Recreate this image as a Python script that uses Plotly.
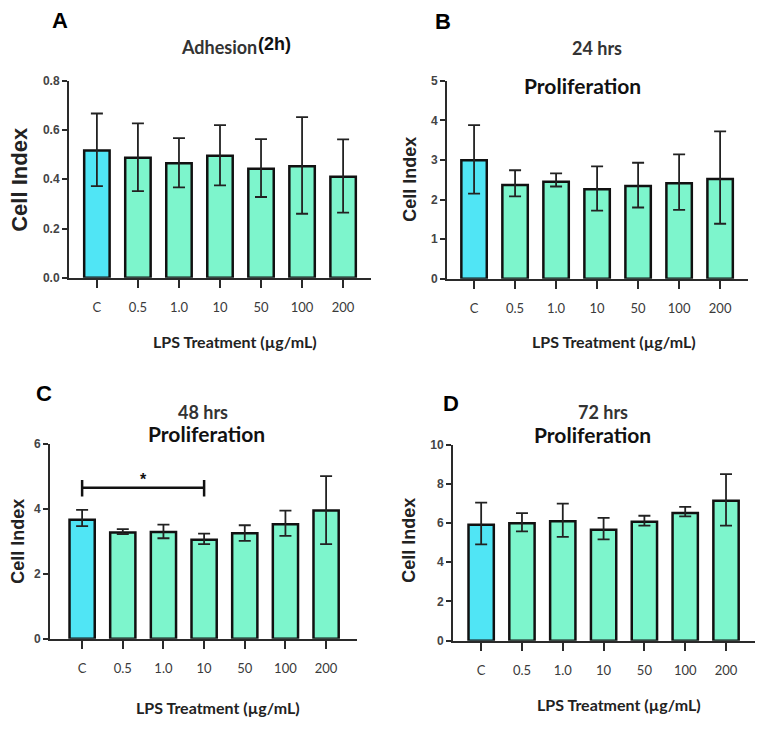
import plotly.graph_objects as go

# The page body has an 8px margin; the figure is sized/offset to fit the 771x735 window.
OFF = 8
W, H = 771 - OFF, 735 - OFF

categories = ["C", "0.5", "1.0", "10", "50", "100", "200"]

# Panel A: Adhesion (2h)
a_mean = [0.517, 0.487, 0.465, 0.495, 0.443, 0.453, 0.410]
a_upper = [0.667, 0.627, 0.567, 0.620, 0.563, 0.652, 0.562]
a_lower = [0.372, 0.352, 0.367, 0.375, 0.328, 0.260, 0.265]

# Panel B: 24 hrs
b_mean = [2.99, 2.37, 2.45, 2.26, 2.34, 2.41, 2.52]
b_upper = [3.88, 2.74, 2.66, 2.84, 2.93, 3.14, 3.72]
b_lower = [2.15, 2.08, 2.33, 1.72, 1.80, 1.74, 1.39]

# Panel C: 48 hrs
c_mean = [3.66, 3.27, 3.28, 3.04, 3.24, 3.52, 3.94]
c_upper = [3.96, 3.37, 3.51, 3.23, 3.49, 3.94, 5.00]
c_lower = [3.46, 3.22, 3.09, 2.91, 3.01, 3.16, 2.91]

# Panel D: 72 hrs
d_mean = [5.91, 5.99, 6.09, 5.66, 6.07, 6.51, 7.14]
d_upper = [7.04, 6.51, 6.99, 6.26, 6.37, 6.82, 8.49]
d_lower = [4.91, 5.57, 5.29, 5.17, 5.87, 6.34, 5.87]

# significance bracket in C (between "C" and "10")
sig_from, sig_to = 0, 3
sig_y, sig_tick_lo, sig_tick_hi = 4.64, 4.37, 4.88
sig_star_y = 4.9

CYAN = "#50E5F5"
MINT = "#7DF5CC"
colors = [CYAN] + [MINT] * 6

panels = [
    dict(x0=69, x1=371, yb=276, yt=75, xr=[-0.68, 6.68], yr=[0, 0.8], dt=0.2, fmt=".1f",
         mean=a_mean, up=a_upper, lo=a_lower),
    dict(x0=447, x1=748, yb=277, yt=75, xr=[-0.66, 6.68], yr=[0, 5], dt=1, fmt="d",
         mean=b_mean, up=b_upper, lo=b_lower),
    dict(x0=50, x1=357, yb=644, yt=445, xr=[-0.79, 6.76], yr=[0, 6], dt=2, fmt="d",
         mean=c_mean, up=c_upper, lo=c_lower),
    dict(x0=453, x1=755, yb=646, yt=446, xr=[-0.69, 6.71], yr=[0, 10], dt=2, fmt="d",
         mean=d_mean, up=d_upper, lo=d_lower),
]

def fx(px):
    return (px - OFF) / W

def fy(py):
    return 1 - (py - OFF) / H

fig = go.Figure()
layout = dict(width=W, height=H, margin=dict(l=0, r=0, t=0, b=0),
              paper_bgcolor="white", plot_bgcolor="white", showlegend=False)

AXC = "#2a2a2a"
for i, p in enumerate(panels, start=1):
    xs = "" if i == 1 else str(i)
    fig.add_trace(go.Bar(
        x=list(range(len(categories))), y=p["mean"],
        marker=dict(color=colors, line=dict(color="#111111", width=2.5)),
        width=0.62,
        error_y=dict(type="data", symmetric=False,
                     array=[u - m for u, m in zip(p["up"], p["mean"])],
                     arrayminus=[m - l for m, l in zip(p["mean"], p["lo"])],
                     color="#222222", thickness=1.8, width=6),
        xaxis="x" + xs, yaxis="y" + xs,
    ))
    layout["xaxis" + xs] = dict(
        domain=[fx(p["x0"]), fx(p["x1"])], range=p["xr"], anchor="y" + xs,
        tickmode="array", tickvals=list(range(len(categories))), ticktext=categories,
        showline=True, linecolor=AXC, linewidth=2, ticks="outside", ticklen=8,
        tickwidth=2, tickcolor=AXC, showgrid=False, zeroline=False,
        ticklabelstandoff=9,
        tickfont=dict(family="Lato", size=13, color="#3a3a3a"), fixedrange=True)
    layout["yaxis" + xs] = dict(
        domain=[fy(p["yb"]), fy(p["yt"])], range=p["yr"], anchor="x" + xs,
        dtick=p["dt"], tick0=0, tickformat=p["fmt"],
        showline=True, linecolor=AXC, linewidth=2, ticks="outside", ticklen=5,
        tickwidth=2, tickcolor=AXC, showgrid=False, zeroline=False,
        tickfont=dict(family="Liberation Sans", size=12, color="#444444", weight="bold"),
        fixedrange=True)

fig.update_layout(**layout)

def px_ann(text, x, y, size, family="Lato", color="#111111", angle=0, xanchor="center"):
    fig.add_annotation(text=text, x=fx(x), y=fy(y), xref="paper", yref="paper",
                       showarrow=False, textangle=angle, xanchor=xanchor, yanchor="middle",
                       font=dict(family=family, size=size, color=color))

# panel letters
px_ann("<b>A</b>", 60, 14, 22, family="Liberation Sans", color="#000000")
px_ann("<b>B</b>", 443, 15, 22, family="Liberation Sans", color="#000000")
px_ann("<b>C</b>", 44, 394, 22, family="Liberation Sans", color="#000000")
px_ann("<b>D</b>", 451, 404, 22, family="Liberation Sans", color="#000000")

# titles
px_ann("<b>Adhesion</b>", 259, 41, 18, color="#333333", xanchor="right")
px_ann("<b>(2h)</b>", 256, 38, 18, family="Liberation Sans", color="#111111", xanchor="left")
px_ann("<b>24 hrs</b>", 597, 42, 18, color="#333333")
px_ann("<b>Proliferation</b>", 582, 80, 21, color="#111111")
px_ann("<b>48 hrs</b>", 203, 413, 18, color="#333333")
px_ann("<b>Proliferation</b>", 206, 435, 21, color="#111111")
px_ann("<b>72 hrs</b>", 603, 413, 18, color="#333333")
px_ann("<b>Proliferation</b>", 592, 436, 21, color="#111111")

# y axis titles
px_ann("<b>Cell Index</b>", 20, 176, 22, family="Liberation Sans", color="#222222", angle=-90)
px_ann("<b>Cell Index</b>", 410, 176, 18, family="Liberation Sans", color="#222222", angle=-90)
px_ann("<b>Cell Index</b>", 18, 545, 18, family="Liberation Sans", color="#222222", angle=-90)
px_ann("<b>Cell Index</b>", 409, 544, 18, family="Liberation Sans", color="#222222", angle=-90)

# x axis titles
xt = "<b>LPS Treatment (µg/mL)</b>"
px_ann(xt, 235, 341, 16, color="#222222")
px_ann(xt, 614, 341, 16, color="#222222")
px_ann(xt, 218, 714, 16, color="#222222")
px_ann(xt, 619, 711, 16, color="#222222")

# significance bracket (panel C)
for (x0, y0, x1, y1) in [(sig_from, sig_y, sig_to, sig_y),
                         (sig_from, sig_tick_lo, sig_from, sig_tick_hi),
                         (sig_to, sig_tick_lo, sig_to, sig_tick_hi)]:
    fig.add_shape(type="line", x0=x0, y0=y0, x1=x1, y1=y1, xref="x3", yref="y3",
                  line=dict(color="#111111", width=2.5))
fig.add_annotation(text="<b>*</b>", x=(sig_from + sig_to) / 2, y=sig_star_y, xref="x3", yref="y3",
                   showarrow=False, font=dict(family="Liberation Sans", size=16, color="#111111"))

fig.write_html("out.html")
